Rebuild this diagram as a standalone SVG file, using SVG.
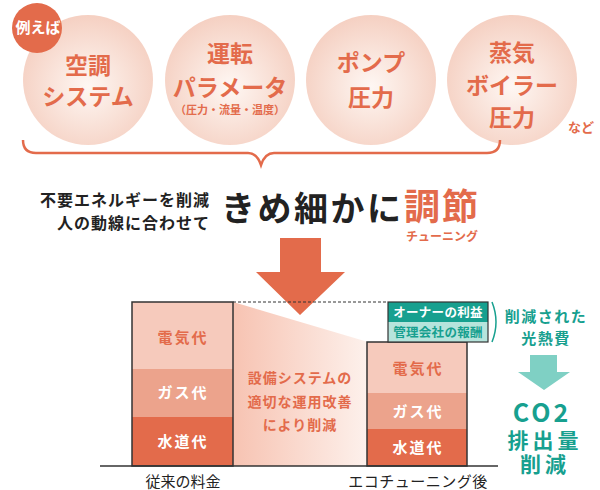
<svg xmlns="http://www.w3.org/2000/svg" width="600" height="490" viewBox="0 0 600 490">
<defs>
<radialGradient id="cg" cx="50%" cy="55%" r="55%">
<stop offset="0" stop-color="#fef7f3"/>
<stop offset="1" stop-color="#f5d0c2"/>
</radialGradient>
<linearGradient id="tg" x1="0" y1="0" x2="1" y2="0">
<stop offset="0" stop-color="#f7c3b2"/>
<stop offset="1" stop-color="#fdf1ec"/>
</linearGradient>
<style>
text{font-family:"Noto Sans CJK JP","Noto Sans",sans-serif;font-weight:700;text-anchor:middle}
.ct{font-size:23px;fill:#e36b4b}
.cs{font-size:11px;fill:#e36b4b}
.bl{font-size:15px;letter-spacing:2px}
.or{fill:#e36b4b}
.wh{fill:#fff}
.dk{fill:#222}
.tl{fill:#17a08f}
.lb{font-size:15px;font-weight:400;fill:#222}
</style>
</defs>
<g id="circle1">
<circle cx="88" cy="80" r="65" fill="url(#cg)"/>
<text class="ct" x="88" y="74">空調</text>
<text class="ct" x="88" y="105">システム</text>
</g>
<g id="badge">
<circle cx="37" cy="28" r="25" fill="#e36b4b"/>
<text x="38" y="33" font-size="15" class="wh">例えば</text>
</g>
<g id="circle2">
<circle cx="230" cy="80" r="65" fill="url(#cg)"/>
<text class="ct" x="230" y="62">運転</text>
<text class="ct" x="230" y="96">パラメータ</text>
<text class="cs" x="230" y="114">（圧力・流量・温度）</text>
</g>
<g id="circle3">
<circle cx="371" cy="80" r="65" fill="url(#cg)"/>
<text class="ct" x="371" y="71">ポンプ</text>
<text class="ct" x="371" y="106">圧力</text>
</g>
<g id="circle4">
<circle cx="512" cy="80" r="65" fill="url(#cg)"/>
<text class="ct" x="512" y="61">蒸気</text>
<text class="ct" x="512" y="94">ボイラー</text>
<text class="ct" x="512" y="126">圧力</text>
</g>
<text x="581" y="132" font-size="13" class="or">など</text>
<path d="M23 140 Q23 153 36 153 L248 153 Q257 153 261 165 Q265 153 274 153 L487 153 Q500 153 500 140" fill="none" stroke="#e36b4b" stroke-width="2.5"/>
<g id="headline">
<text x="210" y="206" font-size="16" class="dk" style="text-anchor:end" letter-spacing="1">不要エネルギーを削減</text>
<text x="210" y="229" font-size="16" class="dk" style="text-anchor:end" letter-spacing="1">人の動線に合わせて</text>
<text x="221" y="221" font-size="34" class="dk" style="text-anchor:start" letter-spacing="2.5">きめ細かに</text>
<text x="404" y="220" font-size="36" class="or" style="text-anchor:start" letter-spacing="2">調節</text>
<text x="442" y="241" font-size="12" class="or">チューニング</text>
</g>
<path d="M280 238 H321 V272 H345 L300 315 L256 272 H280 Z" fill="#e36b4b"/>
<g id="reduction">
<path d="M233 302 L368 342 L368 466 L233 466 Z" fill="url(#tg)"/>
<text x="300" y="383" font-size="14" class="or" letter-spacing="1">設備システムの</text>
<text x="300" y="407" font-size="14" class="or" letter-spacing="1">適切な運用改善</text>
<text x="300" y="430" font-size="14" class="or" letter-spacing="1">により削減</text>
</g>
<line x1="233" y1="302" x2="388" y2="302" stroke="#333" stroke-width="1.2" stroke-dasharray="3,2"/>
<g id="bar-before">
<rect x="132" y="302" width="101" height="67" fill="#f6cabc"/>
<rect x="132" y="369" width="101" height="48" fill="#eca38c"/>
<rect x="132" y="417" width="101" height="49" fill="#e36b4b"/>
<rect x="132" y="302" width="101" height="164" fill="none" stroke="#333" stroke-width="1.5"/>
<text class="bl or" x="183" y="343">電気代</text>
<text class="bl wh" x="183" y="398">ガス代</text>
<text class="bl wh" x="183" y="447">水道代</text>
</g>
<g id="bar-after">
<rect x="367" y="342" width="100" height="51" fill="#f6cabc"/>
<rect x="367" y="393" width="100" height="36" fill="#eca38c"/>
<rect x="367" y="429" width="100" height="37" fill="#e36b4b"/>
<rect x="367" y="342" width="100" height="124" fill="none" stroke="#333" stroke-width="1.5"/>
<text class="bl or" x="418" y="374">電気代</text>
<text class="bl wh" x="418" y="417">ガス代</text>
<text class="bl wh" x="418" y="453">水道代</text>
</g>
<g id="profit">
<rect x="388" y="302" width="100" height="20" fill="#17a08f"/>
<rect x="388" y="322" width="100" height="20" fill="#b6e4dc"/>
<rect x="388" y="302" width="100" height="40" fill="none" stroke="#333" stroke-width="1.2"/>
<text x="438" y="317" font-size="12.5" class="wh" letter-spacing="0.3">オーナーの利益</text>
<text x="438" y="337" font-size="12.5" class="tl" letter-spacing="0.3">管理会社の報酬</text>
<path d="M492 302 Q500 322 492 342" fill="none" stroke="#17a08f" stroke-width="1.5"/>
</g>
<line x1="100" y1="466" x2="498" y2="466" stroke="#333" stroke-width="1.5"/>
<text class="lb" x="183" y="487">従来の料金</text>
<text class="lb" x="418" y="487" letter-spacing="0.5">エコチューニング後</text>
<g id="co2">
<text x="546" y="322" font-size="15" class="tl" letter-spacing="1.5">削減された</text>
<text x="546" y="344" font-size="15" class="tl" letter-spacing="1.5">光熱費</text>
<path d="M530 355 H557 V372 H570 L544 390 L518 372 H530 Z" fill="#7fd0c4"/>
<text x="542" y="422" font-size="25" class="tl" letter-spacing="3">CO2</text>
<text x="545" y="448" font-size="21" class="tl" letter-spacing="4">排出量</text>
<text x="545" y="472" font-size="21" class="tl" letter-spacing="4">削減</text>
</g>
</svg>
